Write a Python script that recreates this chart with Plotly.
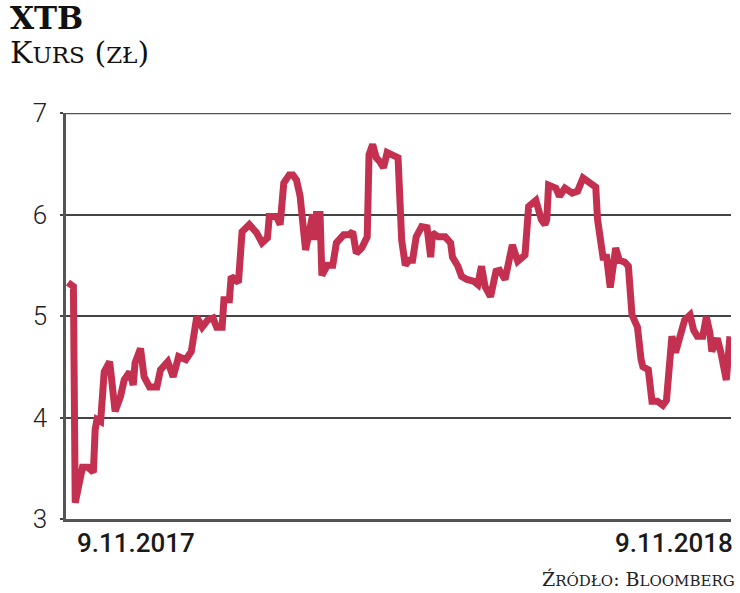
import pandas as pd
import plotly.graph_objects as go

# Days since 9.11.2017 and share price (PLN)
days = [0, 3, 4, 6, 8, 11, 14, 15, 16, 18, 20, 23, 26, 29, 31, 34, 36, 37, 40, 42,
        45, 49, 51, 55, 58, 61, 65, 68, 71, 74, 77, 80, 82, 85, 86, 89, 90, 94, 96, 100,
        104, 107, 110, 111, 115, 117, 119, 122, 124, 126, 128, 131, 133, 135, 136, 137, 139, 140, 143, 146,
        148, 152, 155, 157, 159, 162, 165, 166, 168, 170, 172, 174, 176, 179, 182, 184, 186, 188, 190, 192,
        195, 198, 200, 201, 204, 208, 211, 212, 215, 217, 220, 224, 226, 228, 230, 233, 236, 238, 241, 245,
        248, 252, 254, 258, 261, 263, 264, 265, 269, 271, 274, 278, 281, 284, 288, 291, 292, 294, 295, 297,
        299, 302, 304, 307, 309, 311, 314, 316, 317, 320, 322, 325, 328, 330, 333, 335, 337, 340, 343, 345,
        347, 350, 352, 354, 355, 358, 360, 363, 365]
price = [5.33, 5.29, 3.16, 3.35, 3.51, 3.51, 3.46, 3.88, 3.98, 3.96, 4.45, 4.55, 4.06, 4.21, 4.37, 4.45, 4.32, 4.54, 4.68, 4.40,
         4.30, 4.30, 4.47, 4.55, 4.40, 4.60, 4.57, 4.65, 4.99, 4.89, 4.96, 4.98, 4.89, 4.89, 5.16, 5.16, 5.39, 5.33, 5.83, 5.90,
         5.82, 5.72, 5.77, 5.98, 5.98, 5.90, 6.31, 6.39, 6.39, 6.34, 6.18, 5.65, 5.88, 6.00, 5.75, 6.00, 6.00, 5.40, 5.50, 5.50,
         5.72, 5.80, 5.80, 5.83, 5.62, 5.67, 5.78, 6.59, 6.69, 6.56, 6.52, 6.46, 6.61, 6.59, 6.56, 5.75, 5.50, 5.55, 5.55, 5.78,
         5.88, 5.87, 5.58, 5.82, 5.78, 5.78, 5.72, 5.58, 5.49, 5.39, 5.36, 5.34, 5.31, 5.49, 5.29, 5.19, 5.44, 5.45, 5.36, 5.70,
         5.54, 5.60, 6.08, 6.14, 5.95, 5.90, 5.95, 6.29, 6.26, 6.18, 6.26, 6.21, 6.23, 6.36, 6.31, 6.27, 5.95, 5.75, 5.58, 5.58,
         5.28, 5.67, 5.55, 5.53, 5.49, 5.01, 4.89, 4.57, 4.50, 4.47, 4.16, 4.16, 4.12, 4.17, 4.80, 4.64, 4.76, 4.96, 5.01, 4.86,
         4.80, 4.80, 4.99, 4.83, 4.65, 4.78, 4.64, 4.37, 4.80]

start_date = "2017-11-09"
y_ticks = [3, 4, 5, 6, 7]
x_tick_labels = ["9.11.2017", "9.11.2018"]

dates = pd.Timestamp(start_date) + pd.to_timedelta(days, unit="D")
x0 = pd.Timestamp(start_date)
x_end = dates[-1]

W, H = 740, 593
ML, MR, MT, MB = 66, 9, 113, 74
PW, PH = W - ML - MR, H - MT - MB

fig = go.Figure()
fig.add_trace(go.Scatter(
    x=dates, y=price, mode="lines",
    line=dict(color="#c4304f", width=7, shape="linear"),
    hoverinfo="x+y", showlegend=False,
))

fig.update_layout(
    width=W, height=H,
    margin=dict(l=ML, r=MR, t=MT, b=MB),
    paper_bgcolor="white", plot_bgcolor="white",
    xaxis=dict(
        range=[x0 - pd.Timedelta(hours=26), x_end + pd.Timedelta(hours=14)],
        showgrid=False, showticklabels=False, ticks="",
        showline=True, linecolor="#555555", linewidth=2.5, mirror=False,
        zeroline=False,
    ),
    yaxis=dict(
        range=[3, 7], tickvals=y_ticks, ticktext=[str(v) for v in y_ticks],
        showgrid=True, gridcolor="#444444", gridwidth=2,
        showline=True, linecolor="#555555", linewidth=2.5,
        ticks="outside", ticklen=3, tickcolor="#444444", tickwidth=2,
        ticklabelstandoff=8,
        tickfont=dict(family="Roboto", size=26, color="#222222", weight=300),
        zeroline=False,
    ),
)

# top frame line at 7
fig.add_shape(type="line", xref="paper", yref="y", x0=0, x1=1, y0=7, y1=7,
              line=dict(color="#555555", width=2.5), layer="below")

# date labels below the axis
fig.add_annotation(x=0, y=-7 / PH, xref="paper", yref="paper", xanchor="left", yanchor="top",
                   xshift=9, text=x_tick_labels[0], showarrow=False,
                   font=dict(family="Roboto", size=26, color="#1a1a1a", weight=500))
fig.add_annotation(x=1, y=-7 / PH, xref="paper", yref="paper", xanchor="right", yanchor="top",
                   xshift=4, text=x_tick_labels[1], showarrow=False,
                   font=dict(family="Roboto", size=26, color="#1a1a1a", weight=500))

# Titles
title_font = "DejaVu Serif"
fig.add_annotation(xref="paper", yref="paper", x=-(ML - 8) / PW, y=1 + (MT + 2) / PH,
                   xanchor="left", yanchor="top", showarrow=False,
                   text="<b>XTB</b>",
                   font=dict(family=title_font, size=31, color="#111111"))
fig.add_annotation(xref="paper", yref="paper", x=-(ML - 8) / PW, y=1 + (MT - 33) / PH,
                   xanchor="left", yanchor="top", showarrow=False,
                   text="K<span style='font-size:23px'>URS</span> (<span style='font-size:23px'>ZŁ</span>)",
                   font=dict(family=title_font, size=30, color="#111111"))
fig.add_annotation(xref="paper", yref="paper", x=1 + 6 / PW, y=-(H - MT - PH - 1) / PH,
                   xanchor="right", yanchor="bottom", showarrow=False,
                   text="Ź<span style='font-size:15px'>RÓDŁO</span>: B<span style='font-size:15px'>LOOMBERG</span>",
                   font=dict(family=title_font, size=19, color="#222222"))

fig.write_html("out.html", config={"displayModeBar": False},
               post_script="document.body.style.margin='0';document.body.style.padding='0';")
